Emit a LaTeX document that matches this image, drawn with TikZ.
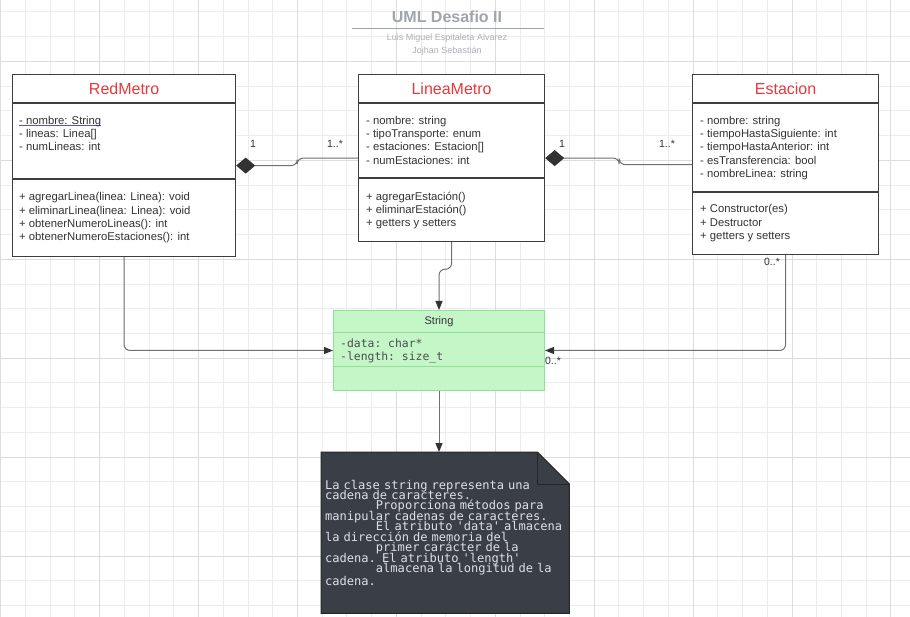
\documentclass[tikz,border=0pt]{standalone}
\usepackage{fontspec}
\setmainfont{Liberation Sans}
\setmonofont{DejaVu Sans Mono}
\usetikzlibrary{arrows.meta,calc,backgrounds}
\usepackage{xcolor}

\definecolor{classred}{RGB}{230,57,58}
\definecolor{classline}{RGB}{62,62,62}
\definecolor{membertext}{RGB}{51,51,51}
\definecolor{wiregray}{RGB}{112,112,112}
\definecolor{tipgray}{RGB}{50,50,50}
\definecolor{stringfill}{RGB}{196,246,200}
\definecolor{stringline}{RGB}{140,226,150}
\definecolor{notefill}{RGB}{58,62,71}
\definecolor{notetext}{RGB}{222,224,228}
\definecolor{titlegray}{RGB}{160,164,171}
\definecolor{subgray}{RGB}{172,175,181}
\definecolor{linkblue}{RGB}{80,80,235}
\definecolor{gridminor}{RGB}{236,236,236}
\definecolor{gridmajor}{RGB}{220,220,220}

\newcommand{\tabin}{\leavevmode\phantom{0000000}}
\newsavebox{\ulbox}
\newcommand{\blueline}[1]{\sbox{\ulbox}{#1}\rlap{\textcolor{linkblue}{\rule[-1.3pt]{\wd\ulbox}{0.9pt}}}\usebox{\ulbox}}

\begin{document}
\begin{tikzpicture}[x=1pt,y=-1pt,
  classbox/.style={draw=classline,line width=1.2pt,fill=white,anchor=north west,inner sep=0pt},
  classsep/.style={draw=classline,line width=1.2pt},
  classname/.style={text=classred,font={\fontsize{16}{18}\selectfont}},
  members/.style={anchor=north west,inner sep=0pt,align=left,text=membertext,font={\fontsize{11.3}{13.2}\selectfont}},
  mult/.style={text=membertext,font={\fontsize{10.5}{12}\selectfont},inner sep=0pt},
  wire/.style={draw=wiregray,line width=1pt,rounded corners=6pt},
  arr/.style={wire,-{Triangle[length=9pt,width=7pt,color=tipgray]}},
  comp/.style={wire,{Diamond[length=19pt,width=16pt,color=tipgray]}-}
]
\useasboundingbox (0,0) rectangle (910,617);

% grid
\begin{scope}[on background layer]
\fill[white] (0,0) rectangle (910,617);
\foreach \i in {0,...,36} \draw[gridminor,line width=0.8pt] ({0.6+24.73*\i},0) -- ++(0,617);
\foreach \j in {0,...,24} \draw[gridminor,line width=0.8pt] (0,{11.9+24.73*\j}) -- ++(910,0);
\foreach \i in {0,...,9} \draw[gridmajor,line width=0.8pt] ({0.6+98.92*\i},0) -- ++(0,617);
\foreach \j in {0,...,5} \draw[gridmajor,line width=0.8pt] (0,{61.4+98.92*\j}) -- ++(910,0);
\end{scope}

% title
\node[text=titlegray,font={\bfseries\fontsize{16}{18}\selectfont}] (title) at (447,17) {UML Desafio II};
\draw[titlegray,line width=1.5pt] (352,28.5) -- (544,28.5);
\node[text=subgray,font={\fontsize{9}{10}\selectfont}] (author1) at (447,38.5) {Luis Miguel Espitaleta Alvarez};
\node[text=subgray,font={\fontsize{9}{10}\selectfont}] (author2) at (447,51) {Jojhan Sebastián};

% RedMetro
\node[classbox,minimum width=223pt,minimum height=182pt] (redmetro) at (12,74) {};
\draw[classsep] ([yshift=-29pt]redmetro.north west) -- ([yshift=-29pt]redmetro.north east);
\draw[classsep] ([yshift=-105pt]redmetro.north west) -- ([yshift=-105pt]redmetro.north east);
\node[classname] (redmetro-name) at ([yshift=-14.5pt]redmetro.north) {RedMetro};
\node[members] (redmetro-attr) at ([xshift=7pt,yshift=-41pt]redmetro.north west)
  {\strut\blueline{- nombre: String}\\- lineas: Linea[]\\- numLineas: int};
\node[members] (redmetro-meth) at ([xshift=7pt,yshift=-117.5pt]redmetro.north west)
  {\strut+ agregarLinea(linea: Linea): void\\+ eliminarLinea(linea: Linea): void\\+ obtenerNumeroLineas(): int\\+ obtenerNumeroEstaciones(): int};

% LineaMetro
\node[classbox,minimum width=186pt,minimum height=167pt] (lineametro) at (358,74) {};
\draw[classsep] ([yshift=-29pt]lineametro.north west) -- ([yshift=-29pt]lineametro.north east);
\draw[classsep] ([yshift=-104pt]lineametro.north west) -- ([yshift=-104pt]lineametro.north east);
\node[classname] (lineametro-name) at ([yshift=-14.5pt]lineametro.north) {LineaMetro};
\node[members] (lineametro-attr) at ([xshift=8pt,yshift=-41pt]lineametro.north west)
  {\strut- nombre: string\\- tipoTransporte: enum\\- estaciones: Estacion[]\\- numEstaciones: int};
\node[members] (lineametro-meth) at ([xshift=8pt,yshift=-117pt]lineametro.north west)
  {\strut+ agregarEstación()\\+ eliminarEstación()\\+ getters y setters};

% Estacion
\node[classbox,minimum width=186pt,minimum height=180pt] (estacion) at (692,74) {};
\draw[classsep] ([yshift=-29pt]estacion.north west) -- ([yshift=-29pt]estacion.north east);
\draw[classsep] ([yshift=-118pt]estacion.north west) -- ([yshift=-118pt]estacion.north east);
\node[classname] (estacion-name) at ([yshift=-14.5pt]estacion.north) {Estacion};
\node[members] (estacion-attr) at ([xshift=8pt,yshift=-41pt]estacion.north west)
  {\strut- nombre: string\\- tiempoHastaSiguiente: int\\- tiempoHastaAnterior: int\\- esTransferencia: bool\\- nombreLinea: string};
\node[members] (estacion-meth) at ([xshift=8pt,yshift=-129.5pt]estacion.north west)
  {\strut+ Constructor(es)\\+ Destructor\\+ getters y setters};

% String
\node[classbox,draw=stringline,fill=stringfill,line width=1pt,minimum width=211pt,minimum height=80pt] (string) at (333,310) {};
\draw[stringline,line width=1pt] ([yshift=-23pt]string.north west) -- ([yshift=-23pt]string.north east);
\draw[stringline,line width=1pt] ([yshift=-57pt]string.north west) -- ([yshift=-57pt]string.north east);
\node[text=membertext,font={\fontsize{11}{13}\selectfont}] (string-name) at ([yshift=-11.5pt]string.north) {String};
\node[members,font={\ttfamily\fontsize{11.4}{13}\selectfont},text=black!70] (string-attr) at ([xshift=7pt,yshift=-28pt]string.north west)
  {\strut-data: char*\\-length: size\_t};

% note
\node[anchor=north west,minimum width=248pt,minimum height=161pt,text width=240pt,inner sep=4pt,align=left,
  text=notetext,font={\ttfamily\fontsize{12.05}{10.45}\selectfont}] (note) at (321,452)
  {\lineskiplimit=-20pt La clase string representa una\\cadena de caracteres.\\\tabin Proporciona métodos para\\manipular cadenas de caracteres.\\\tabin El atributo 'data' almacena\\la dirección de memoria del\\\tabin primer carácter de la\\cadena. El atributo 'length'\\\tabin almacena la longitud de la\\cadena.};
\begin{scope}[on background layer]
\filldraw[fill=notefill,draw=black!85,line width=1pt] (note.north west) -- ([xshift=-32pt]note.north east)
  -- ([yshift=-32pt]note.north east) -- (note.south east) -- (note.south west) -- cycle;
\draw[black!85,line width=1pt] ([xshift=-32pt]note.north east) |- ([yshift=-32pt]note.north east);
\end{scope}

% connectors
\draw[comp] (redmetro.east) -- ++(61,0) |- (lineametro.west);
\draw[comp] (lineametro.east) -- ++(74,0) |- (estacion.west);
\draw[arr] (redmetro.south) |- (string.west);
\draw[arr] (lineametro.south) -- ++(0,27) -| (string.north);
\draw[arr] (estacion.south) |- (string.east);
\draw[arr] (string.south) -- (note.north -| string.south);

% multiplicities
\node[mult] (m-red) at (253,144) {1};
\node[mult] (m-linea-in) at (335,144) {1..*};
\node[mult] (m-linea-out) at (562,144) {1};
\node[mult] (m-est-in) at (667,144) {1..*};
\node[mult] (m-est-out) at (772,262) {0..*};
\node[mult] (m-string) at (553,361) {0..*};

\end{tikzpicture}
\end{document}
